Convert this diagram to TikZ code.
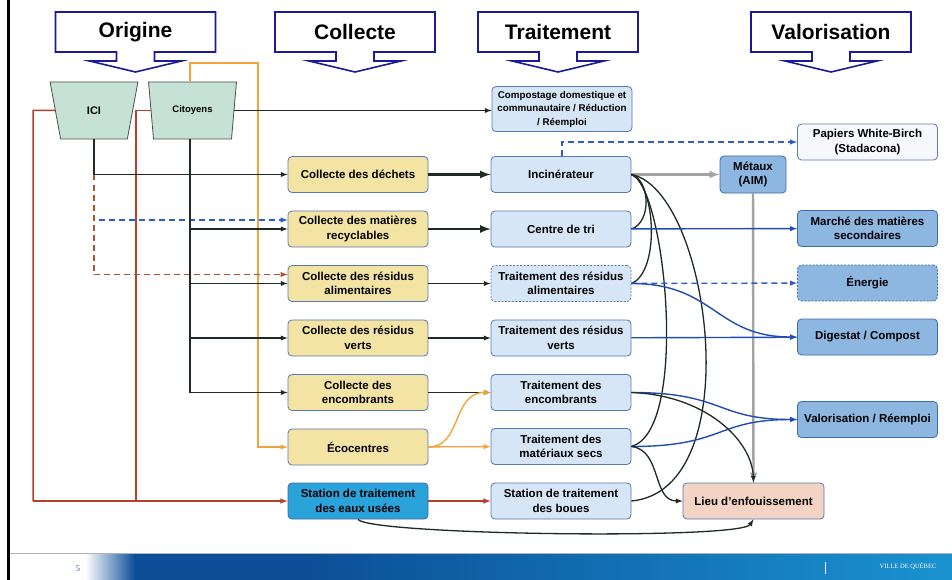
\documentclass[tikz,border=0pt]{standalone}
\usepackage{fontspec}
\setmainfont{Liberation Sans}
\newfontfamily\serifville{Liberation Serif}
\usepackage{tikz}
\usetikzlibrary{calc,arrows,shapes.geometric}

\definecolor{jaune}{HTML}{F4E4A4}
\definecolor{bleuclair}{HTML}{D6E6F7}
\definecolor{bleumoyen}{HTML}{8DB6E0}
\definecolor{bleuvif}{HTML}{2AA2DA}
\definecolor{rose}{HTML}{F3D4C4}
\definecolor{blanccasse}{HTML}{F7F8FB}
\definecolor{vertpale}{HTML}{C6E2D6}
\definecolor{gristrap}{HTML}{4A4F4C}
\definecolor{bordbleu}{HTML}{5679B8}
\definecolor{bordfonce}{HTML}{3F6CAA}
\definecolor{bleuentete}{HTML}{1A1A9A}
\definecolor{noirvert}{HTML}{1E2A22}
\definecolor{bleutrait}{HTML}{1F4DB5}
\definecolor{bleutiret}{HTML}{2E5BD0}
\definecolor{bruntiret}{HTML}{B0522E}
\definecolor{orangefil}{HTML}{F2A33A}
\definecolor{rougefil}{HTML}{B5412C}
\definecolor{grisfil}{HTML}{A3A3A3}
\definecolor{bleufonce}{HTML}{0C4E97}
\definecolor{bleupied}{HTML}{1A92D0}
\definecolor{bleutexte}{HTML}{3A62B0}

\newcommand{\entete}[3]{%
  \draw[bleuentete, line width=1.6pt, fill=white] (#1-80,12) -- (#1+80,12) -- (#1+80,52) -- (#1+19,52) -- (#1+19,61) -- (#1+46,61) -- (#1,72) -- (#1-46,61) -- (#1-19,61) -- (#1-19,52) -- (#1-80,52) -- cycle;
  \node[titre] (#2) at (#1,32) {#3};}

\begin{document}
\begin{tikzpicture}[x=1pt,y=-1pt,>=latex,
  boite/.style={draw, rounded corners=4pt, line width=0.8pt, minimum width=140pt, minimum height=36pt, align=center, inner sep=2pt, font=\fontsize{11.5}{14.5}\selectfont\bfseries},
  collecte/.style={boite, fill=jaune, draw=bordbleu},
  traite/.style={boite, fill=bleuclair, draw=bordbleu},
  valo/.style={boite, fill=bleumoyen, draw=bordfonce},
  trap/.style={draw=gristrap, fill=vertpale, line width=0.8pt, trapezium, trapezium angle=74, shape border rotate=180, trapezium stretches=true, minimum width=88pt, minimum height=57pt, inner sep=0pt},
  titre/.style={font=\fontsize{21}{24}\selectfont\bfseries},
  fil/.style={->, draw=noirvert, line width=1.3pt},
  gros/.style={->, draw=noirvert, line width=2.6pt},
  courbe/.style={draw=noirvert, line width=1.3pt},
  bleu/.style={->, draw=bleutrait, line width=1.4pt},
  tiretbleu/.style={->, draw=bleutiret, line width=1.4pt, dash pattern=on 6pt off 4pt},
  tiretbrun/.style={->, draw=bruntiret, line width=1.4pt, dash pattern=on 6pt off 4pt},
  orfil/.style={draw=orangefil, line width=1.4pt},
  rougeligne/.style={draw=rougefil, line width=1.5pt},
  grisligne/.style={->, draw=grisfil, line width=2.4pt}]
\useasboundingbox (0,0) rectangle (952,580);
\fill[white] (0,0) rectangle (952,580);

\entete{135.5}{origine}{Origine}
\entete{355}{collecte}{Collecte}
\entete{558}{traitement}{Traitement}
\entete{831}{valorisation}{Valorisation}

\node[trap, font=\fontsize{11}{12}\selectfont\bfseries] (ici) at (94,110.5) {ICI};
\node[trap, font=\fontsize{9.5}{12}\selectfont\bfseries] (cit) at (192.5,110.5) {\raisebox{2pt}{Citoyens}};

\node[collecte] (decc) at (358,174.5) {Collecte des déchets};
\node[collecte] (recc) at (358,229) {Collecte des matières\\recyclables};
\node[collecte] (resc) at (358,283.5) {Collecte des résidus\\alimentaires};
\node[collecte] (verc) at (358,338) {Collecte des résidus\\verts};
\node[collecte] (encc) at (358,392.5) {Collecte des\\encombrants};
\node[collecte] (eco) at (358,447) {Écocentres};
\node[boite, fill=bleuvif, draw=bordfonce] (eaux) at (358,501) {Station de traitement\\des eaux usées};

\node[traite, minimum height=45pt, font=\fontsize{9.8}{13.5}\selectfont\bfseries] (compost) at (562,109) {Compostage domestique et\\communautaire / Réduction\\/ Réemploi};
\node[traite] (inc) at (561,174.5) {Incinérateur};
\node[traite] (tri) at (561,229) {Centre de tri};
\node[traite, dash pattern=on 2pt off 1.5pt] (resal) at (561,283.5) {Traitement des résidus\\alimentaires};
\node[traite] (vert) at (561,338) {Traitement des résidus\\verts};
\node[traite] (enc) at (561,392.5) {Traitement des\\encombrants};
\node[traite] (secs) at (561,446.5) {Traitement des\\matériaux secs};
\node[traite] (boues) at (561,501) {Station de traitement\\des boues};

\node[boite, fill=blanccasse, draw=bordbleu] (papier) at (867.5,142) {Papiers White-Birch\\(Stadacona)};
\node[valo, minimum width=66pt, minimum height=37pt] (metaux) at (753,174.5) {Métaux\\(AIM)};
\node[valo] (marche) at (867.5,228.5) {Marché des matières\\secondaires};
\node[valo, dash pattern=on 2pt off 1.5pt] (energie) at (867.5,283) {Énergie};
\node[valo] (digest) at (867.5,337) {Digestat / Compost};
\node[valo] (valre) at (867.5,419.5) {Valorisation / Réemploi};
\node[boite, fill=rose, draw=bordbleu, minimum width=141pt] (lieu) at (753.5,501) {Lieu d'enfouissement};

\coordinate (jici) at (ici.south |- decc.west);
\coordinate (coinor) at (258,63);
\coordinate (coinici) at (33,110.5);
\coordinate (coincit) at (136,110.5);

\draw[rougeligne] (ici.west) -- (coinici) -- (coinici |- eaux.west);
\draw[rougeligne] (cit.west) -- (coincit) -- (coincit |- eaux.west);
\draw[rougeligne, ->] (coinici |- eaux.west) -- (eaux.west);
\draw[orfil, ->] (cit.north -| 190,0) |- (coinor) |- (eco.west);
\draw[tiretbleu] (jici) |- ([yshift=9pt]recc.west);
\draw[tiretbrun] (jici) |- ([yshift=9pt]resc.west);
\draw[fil] (ici.south) |- (decc.west);
\draw[fil] (cit.south -| 190,0) |- (encc.west);
\draw[fil] (190,0 |- recc.west) -- (recc.west);
\draw[fil] (190,0 |- resc.west) -- (resc.west);
\draw[fil] (190,0 |- verc.west) -- (verc.west);
\draw[fil] (cit.east) -- (cit.east -| compost.west);

\draw[gros] (decc) -- (inc);
\draw[gros] (recc) -- (tri);
\draw[fil] (resc) -- (resal);
\draw[fil] (verc) -- (vert);
\draw[fil] (encc) -- (enc);
\draw[orfil, ->] (eco.east) .. controls (462,447) and (452,392.5) .. (enc.west);
\draw[orfil, ->] (eco) -- (secs);
\draw[rougeligne, ->] (eaux) -- (boues);
\draw[fil] (eaux.south) .. controls (370,535) and (740,540) .. (lieu.south);

\draw[grisligne] (inc) -- (metaux);
\draw[grisligne] (metaux) -- (lieu);
\draw[tiretbleu] ([xshift=1pt]inc.north) |- (papier.west);

\draw[courbe] (inc.east) .. controls (650,180) and (652,222) .. (tri.east);
\draw[courbe] (inc.east) .. controls (656,185) and (660,272) .. (resal.east);
\draw[courbe] (inc.east) .. controls (665,185) and (690,430) .. (secs.east);
\draw[courbe] (inc.east) .. controls (710,190) and (750,490) .. (boues.east);

\draw[bleu] (tri) -- (marche);
\draw[tiretbleu] (resal) -- (energie);
\draw[bleu] (resal.east) .. controls (715,283.5) and (715,337) .. (digest.west);
\draw[bleu] (vert) -- (digest);
\draw[bleu] (enc.east) .. controls (725,392.5) and (715,419.5) .. (valre.west);
\draw[bleu] (secs.east) .. controls (725,446.5) and (715,419.5) .. (valre.west);
\draw[fil] (enc.east) .. controls (705,395) and (752,440) .. (lieu.north);
\draw[fil] (secs.east) .. controls (662,450) and (652,501) .. (lieu.west);

\fill[bleufonce] (135,554) rectangle (300,580);
\shade[left color=white, right color=bleufonce] (85,554) rectangle (135,580);
\shade[left color=bleufonce, right color=bleupied] (300,554) rectangle (952,580);
\draw[gray!60, line width=0.8pt] (8,553) -- (952,553);
\draw[white, line width=1pt] (825,562) -- (825,574);
\node[font=\serifville\fontsize{8.5}{9}\selectfont, text=bleutexte] (page) at (78,568.5) {5};
\node[font=\serifville\fontsize{6.5}{8}\selectfont, text=white] (ville) at (908,566) {VILLE DE QUÉBEC};
\draw[black, line width=2.4pt] (8.5,0) -- (8.5,580);
\end{tikzpicture}
\end{document}
